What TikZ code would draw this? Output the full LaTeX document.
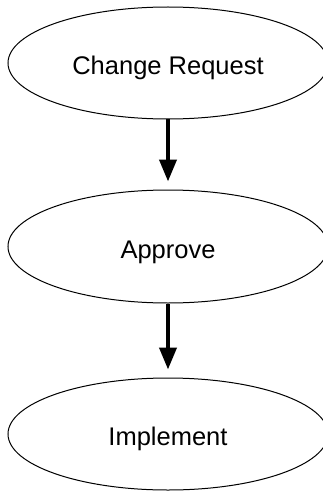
\documentclass[tikz,border=0pt]{standalone}
\usepackage{fontspec}
\setmainfont{Liberation Sans}
\usetikzlibrary{shapes.geometric,arrows.meta}
\begin{document}
\begin{tikzpicture}[x=1pt,y=1pt,
  stage/.style={ellipse,draw=black,line width=1pt,inner sep=0pt,
    minimum width=320pt,minimum height=112pt,text height=23pt,text depth=0pt,
    font=\fontsize{25.5}{30}\selectfont},
  flow/.style={line width=4pt,-{Triangle[length=22pt,width=17pt]},shorten >=8pt}]
  \useasboundingbox (0,0) rectangle (322,-492);
  \node[stage] (req) at (168,-63) {Change Request};
  \node[stage,minimum height=113pt] (appr) at (168,-246.5) {Approve};
  \node[stage] (impl) at (168,-434) {Implement};
  \draw[flow] (req.south) -- (appr.north);
  \draw[flow] (appr.south) -- (impl.north);
\end{tikzpicture}
\end{document}
